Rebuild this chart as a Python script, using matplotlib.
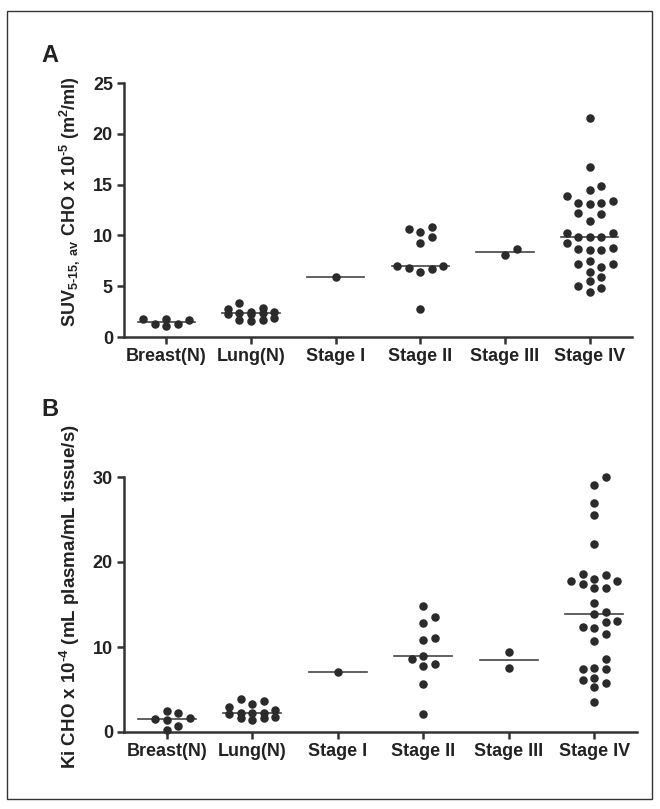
import matplotlib
matplotlib.use('Agg')
import matplotlib.pyplot as plt
import numpy as np
from matplotlib.patches import Rectangle

plt.rcParams['font.family'] = ['Liberation Sans', 'DejaVu Sans']
plt.rcParams['font.weight'] = 'bold'
plt.rcParams['axes.labelweight'] = 'bold'
plt.rcParams['mathtext.fontset'] = 'custom'
plt.rcParams['mathtext.rm'] = 'Liberation Sans:bold'
plt.rcParams['mathtext.it'] = 'Liberation Sans:bold'
plt.rcParams['mathtext.bf'] = 'Liberation Sans:bold'
plt.rcParams['mathtext.default'] = 'rm'

categories = ['Breast(N)', 'Lung(N)', 'Stage I', 'Stage II', 'Stage III', 'Stage IV']

# panel A: SUV 5-15, av CHO x 10^-5
breast_a = [1.76, 1.25, 1.1, 1.76, 1.25, 1.67]
lung_a = [2.3, 2.5, 2.9, 2.4, 2.8, 2.3, 3.3, 2.5, 1.7, 1.6, 1.7, 1.9, 2.4]
stage1_a = [5.9]
stage2_a = [10.8, 10.3, 10.6, 9.8, 9.3, 7.0, 6.7, 6.4, 6.8, 7.0, 2.75]
stage3_a = [8.1, 8.7]
stage4_a = [21.6, 16.7, 14.9, 14.5, 13.85, 13.36, 13.2, 13.1, 13.2, 12.1, 12.2,
            11.4, 10.2, 10.2, 9.8, 9.8, 9.8, 9.3, 8.8, 8.6, 8.6, 8.7, 7.45, 7.16,
            7.2, 6.9, 6.4, 5.9, 5.5, 5.0, 4.8, 4.4]

# panel B: Ki CHO x 10^-4
breast_b = [2.19, 2.46, 1.37, 1.68, 0.7, 1.49, 0.23]
lung_b = [3.9, 3.7, 3.25, 2.97, 2.07, 2.58, 2.19, 2.19, 2.19, 1.6, 1.4, 1.6, 1.8]
stage1_b = [7.1]
stage2_b = [14.86, 13.5, 12.8, 11.1, 10.8, 9.0, 8.6, 7.8, 7.96, 5.6, 2.15]
stage3_b = [9.37, 7.56]
stage4_b = [30.0, 29.1, 27.0, 25.5, 22.1, 17.8, 18.55, 17.4, 18.5, 18.0, 16.9,
            17.0, 17.8, 15.2, 14.15, 13.9, 13.0, 13.1, 12.4, 12.2, 11.5, 10.7,
            8.55, 7.5, 7.4, 7.4, 6.4, 5.8, 5.3, 6.1, 3.5]

groups_a = [breast_a, lung_a, stage1_a, stage2_a, stage3_a, stage4_a]
groups_b = [breast_b, lung_b, stage1_b, stage2_b, stage3_b, stage4_b]

DARK = '#2b2b2b'
DOT_PX = 8.5
STEP_PX = 11.5
MAX_STEPS = 2


def swarm_x(ax, values, center):
    # greedy swarm in pixel space, at most +/-2 columns, like Prism
    trans = ax.transData
    vals = np.asarray(values, dtype=float)
    ys = trans.transform(np.column_stack([np.full(len(vals), center), vals]))[:, 1]
    px_per_unit = trans.transform((1, 0))[0] - trans.transform((0, 0))[0]
    cands = [0]
    for j in range(1, MAX_STEPS + 1):
        cands += [j, -j]
    placed = []
    offs = np.zeros(len(vals))
    for i in np.argsort(ys):
        best, best_d = 0, -1
        for c in cands:
            xo = c * STEP_PX
            if placed:
                d = min(np.hypot(xo - px, ys[i] - py) for px, py in placed)
            else:
                d = 1e9
            if d >= DOT_PX + 0.5:
                best = xo
                break
            if d > best_d:
                best, best_d = xo, d
        placed.append((best, ys[i]))
        offs[i] = best
    return center + offs / px_per_unit


def draw_panel(ax, groups, ymax, yticks):
    ax.set_xlim(-0.5, 5.5)
    ax.set_ylim(0, ymax)
    for sp in ['top', 'right']:
        ax.spines[sp].set_visible(False)
    for sp in ['left', 'bottom']:
        ax.spines[sp].set_linewidth(1.8)
        ax.spines[sp].set_color('#333333')
    ax.set_xticks(range(len(categories)))
    ax.set_xticklabels(categories)
    ax.set_yticks(yticks)
    ax.tick_params(axis='both', direction='out', length=5, width=1.8,
                   color='#333333', labelsize=13, labelcolor='#222222', pad=3)
    for i, vals in enumerate(groups):
        xs = swarm_x(ax, vals, i)
        ax.plot(xs, vals, 'o', color=DARK, markersize=DOT_PX * 0.72,
                markeredgewidth=0, clip_on=False, zorder=3)
        med = np.median(vals)
        ax.plot([i - 0.34, i + 0.34], [med, med], color='#444444', lw=1.2, zorder=2)


fig = plt.figure(figsize=(6.6, 8.09), dpi=100)

ax_a = fig.add_axes([124 / 660, 1 - 337 / 809, 508 / 660, 254 / 809])
ax_b = fig.add_axes([124 / 660, 1 - 732 / 809, 513 / 660, 255 / 809])

draw_panel(ax_a, groups_a, 25, [0, 5, 10, 15, 20, 25])
draw_panel(ax_b, groups_b, 30, [0, 10, 20, 30])

ax_a.set_ylabel(r'SUV$_{5\text{-}15,\ av}$ CHO x 10$^{\text{-}5}$ (m$^{2}$/ml)',
                fontsize=13, fontweight='bold', color='#222222')
ax_a.yaxis.set_label_coords(-0.083, 0.533)
ax_b.set_ylabel(r'Ki CHO x 10$^{\text{-}4}$ (mL plasma/mL tissue/s)',
                fontsize=13.5, fontweight='bold', color='#222222')
ax_b.yaxis.set_label_coords(-0.082, 0.531)

fig.text(41 / 660, 1 - 62 / 809, 'A', fontsize=17, fontweight='bold', color='#222222')
fig.text(41 / 660, 1 - 416 / 809, 'B', fontsize=17, fontweight='bold', color='#222222')

fig.patches.append(Rectangle((7 / 660, 1 - 799 / 809), 645 / 660, 788 / 809,
                             transform=fig.transFigure, fill=False,
                             edgecolor='#333333', linewidth=1.0))

fig.savefig('out.png', dpi=100)
